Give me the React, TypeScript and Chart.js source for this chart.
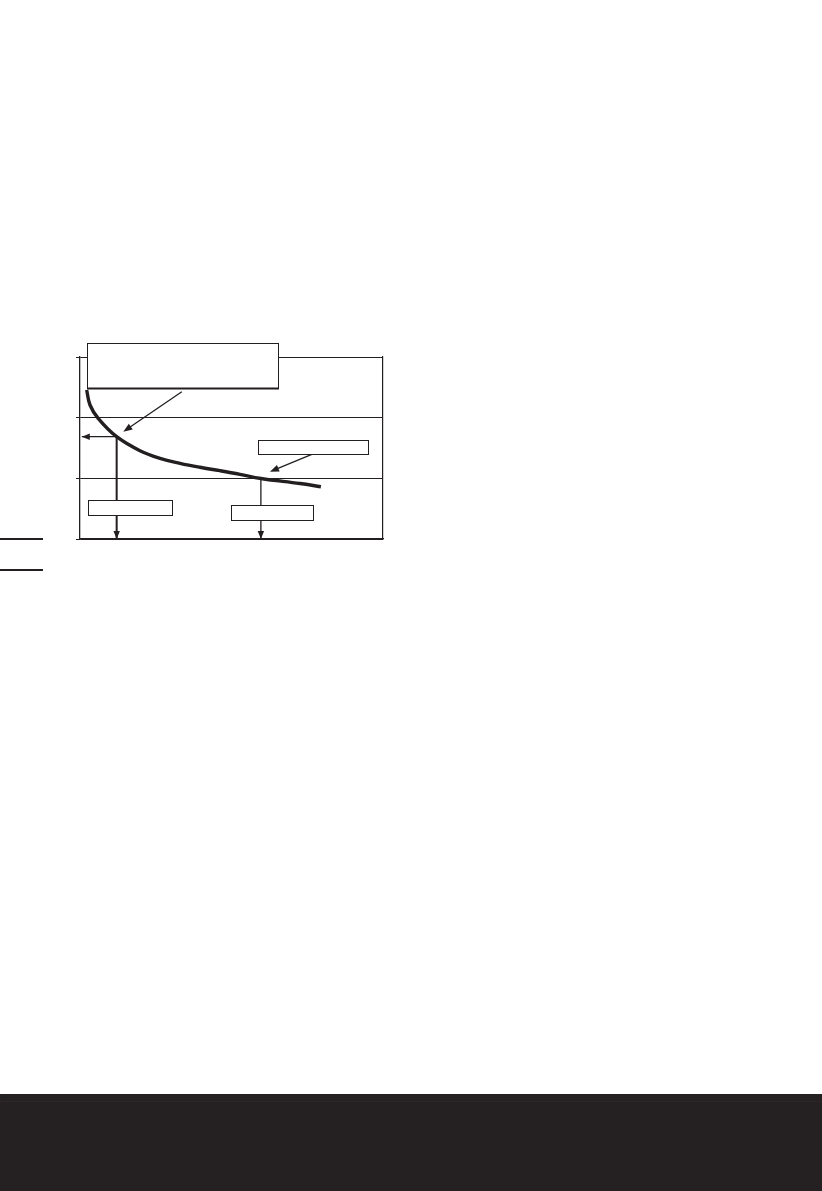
import React, { useEffect, useRef } from "react";
import { Chart, registerables } from "chart.js";

Chart.register(...registerables);

// ---- data (chart units: x 0..10, y 0..3) ----
const curveX = [0.22, 0.33, 0.6, 1.21, 1.98, 2.64, 3.3, 3.96, 4.62, 5.28, 5.97, 7.26, 7.95];
const curveY = [2.456, 2.209, 1.989, 1.686, 1.455, 1.33, 1.248, 1.182, 1.126, 1.066, 0.997, 0.915, 0.862];
const xLimits = [0, 10];
const yTickValues = [0, 1, 2, 3];
const dropAX = [1.21, 1.21];
const dropAY = [1.686, 0];
const leadAX = [1.21, 0.06];
const leadAY = [1.686, 1.686];
const dropBX = [5.97, 5.97];
const dropBY = [0.997, 0];
// callout boxes: [x0, x1, yTop, yBottom]
const boxTop = [0.22, 6.54, 3.226, 2.494];
const boxRight = [5.86, 9.51, 1.632, 1.396];
const boxLowLeft = [0.27, 3.03, 0.638, 0.391];
const boxLowRight = [4.97, 7.7, 0.555, 0.308];
// pointer arrows: [fromX, fromY, toX, toY]
const pointerTop = [3.36, 2.428, 1.43, 1.769];
const pointerRight = [7.65, 1.396, 6.27, 1.109];

const INK = "#231f20";

const zip = (xs: number[], ys: number[]) => xs.map((x, i) => ({ x, y: ys[i] }));

function arrowHead(ctx: CanvasRenderingContext2D, fx: number, fy: number, tx: number, ty: number, len = 8, half = 3.2) {
  const a = Math.atan2(ty - fy, tx - fx);
  ctx.beginPath();
  ctx.moveTo(tx, ty);
  ctx.lineTo(tx - len * Math.cos(a) + half * Math.sin(a), ty - len * Math.sin(a) - half * Math.cos(a));
  ctx.lineTo(tx - len * Math.cos(a) - half * Math.sin(a), ty - len * Math.sin(a) + half * Math.cos(a));
  ctx.closePath();
  ctx.fillStyle = INK;
  ctx.fill();
}

const annotate = {
  id: "annotate",
  afterDatasetsDraw(chart: any) {
    const { ctx, scales } = chart;
    const X = (v: number) => scales.x.getPixelForValue(v);
    const Y = (v: number) => scales.y.getPixelForValue(v);
    ctx.save();
    // arrowheads on drop / lead lines
    arrowHead(ctx, X(dropAX[0]), Y(dropAY[0]), X(dropAX[1]), Y(dropAY[1]));
    arrowHead(ctx, X(leadAX[0]), Y(leadAY[0]), X(leadAX[1]), Y(leadAY[1]));
    arrowHead(ctx, X(dropBX[0]), Y(dropBY[0]), X(dropBX[1]), Y(dropBY[1]));
    // pointer arrows
    for (const p of [pointerTop, pointerRight]) {
      const fx = X(p[0]), fy = Y(p[1]), tx = X(p[2]), ty = Y(p[3]);
      const a = Math.atan2(ty - fy, tx - fx);
      ctx.beginPath();
      ctx.moveTo(fx, fy);
      ctx.lineTo(tx - 6 * Math.cos(a), ty - 6 * Math.sin(a));
      ctx.strokeStyle = INK;
      ctx.lineWidth = 1.3;
      ctx.stroke();
      arrowHead(ctx, fx, fy, tx, ty, 9, 3.5);
    }
    // boxes
    const boxes = [boxTop, boxRight, boxLowLeft, boxLowRight];
    boxes.forEach((b, i) => {
      const x0 = Math.round(X(b[0])) + 0.5, x1 = Math.round(X(b[1])) + 0.5;
      const y0 = Math.round(Y(b[2])) + 0.5, y1 = Math.round(Y(b[3])) + 0.5;
      ctx.fillStyle = "#ffffff";
      ctx.fillRect(x0, y0, x1 - x0, y1 - y0);
      ctx.strokeStyle = INK;
      ctx.lineWidth = 1;
      ctx.strokeRect(x0, y0, x1 - x0, y1 - y0);
      if (i === 0) {
        ctx.beginPath();
        ctx.moveTo(x0 - 0.5, y1);
        ctx.lineTo(x1 + 0.5, y1);
        ctx.lineWidth = 2.2;
        ctx.stroke();
      }
    });
    ctx.restore();
  },
};

export default function App() {
  const ref = useRef<HTMLCanvasElement | null>(null);
  useEffect(() => {
    if (!ref.current) return;
    const chart = new Chart(ref.current, {
      type: "scatter",
      data: {
        datasets: [
          {
            data: zip(curveX, curveY),
            showLine: true,
            borderColor: INK,
            borderWidth: 3.4,
            pointRadius: 0,
            tension: 0.4,
            borderCapStyle: "butt",
          },
          { data: zip(dropAX, dropAY), showLine: true, borderColor: INK, borderWidth: 2, pointRadius: 0 },
          { data: zip(leadAX, leadAY), showLine: true, borderColor: INK, borderWidth: 1.3, pointRadius: 0 },
          { data: zip(dropBX, dropBY), showLine: true, borderColor: INK, borderWidth: 1.3, pointRadius: 0 },
        ],
      } as any,
      options: {
        responsive: false,
        animation: false,
        events: [],
        layout: { padding: { left: 76, top: 357, right: 439, bottom: 652 } },
        plugins: { legend: { display: false }, tooltip: { enabled: false }, title: { display: false } },
        scales: {
          x: {
            type: "linear",
            min: xLimits[0],
            max: xLimits[1],
            grid: { display: false, drawTicks: false },
            ticks: { display: false },
            border: { display: true, color: INK, width: 1.2 },
          },
          y: {
            type: "linear",
            min: yTickValues[0],
            max: yTickValues[yTickValues.length - 1],
            afterBuildTicks: (s: any) => {
              s.ticks = yTickValues.map((v) => ({ value: v }));
            },
            ticks: { display: false },
            grid: { display: true, color: INK, lineWidth: 1, drawTicks: true, tickLength: 4 },
            border: { display: true, color: INK, width: 1.3 },
          },
          y2: {
            type: "linear",
            position: "right",
            min: yTickValues[0],
            max: yTickValues[yTickValues.length - 1],
            ticks: { display: false },
            grid: { display: false, drawTicks: false },
            border: { display: true, color: INK, width: 1.2 },
          },
        },
      } as any,
      plugins: [annotate],
    });
    return () => chart.destroy();
  }, []);

  return (
    <div style={{ position: "absolute", left: 0, top: 0, width: 822, height: 1191, background: "#ffffff", overflow: "hidden" }}>
      <canvas ref={ref} width={822} height={1191} style={{ position: "absolute", left: 0, top: 0, display: "block" }} />
      <div style={{ position: "absolute", left: 0, top: 538, width: 43, height: 2, background: INK }} />
      <div style={{ position: "absolute", left: 0, top: 569, width: 43, height: 2, background: INK }} />
      <div style={{ position: "absolute", left: 0, top: 1094, width: 822, height: 97, background: "#252122" }}>
        <div style={{ position: "absolute", left: 0, top: 7, width: 822, height: 0, borderTop: "1px dotted #3a2a2c" }} />
      </div>
    </div>
  );
}
